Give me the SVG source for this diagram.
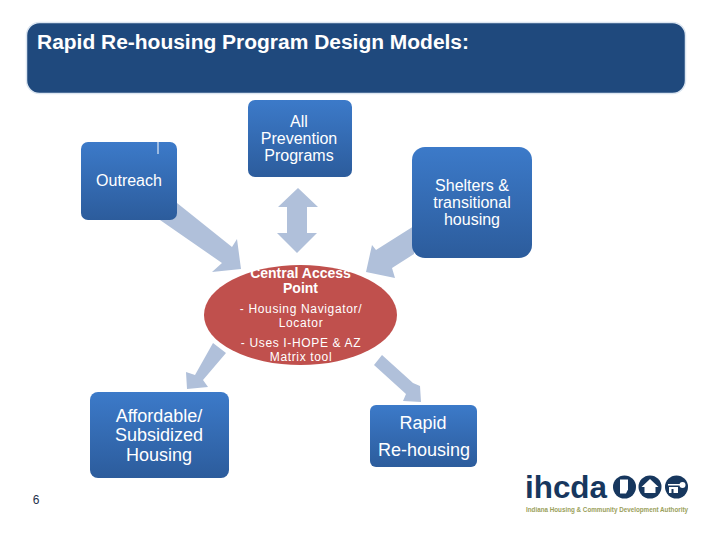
<svg xmlns="http://www.w3.org/2000/svg" width="720" height="540" viewBox="0 0 720 540">
<style>
text{font-family:"Liberation Sans",Arial,sans-serif;fill:#fff;text-anchor:middle}
.box{fill:url(#g)}
.arr{fill:#b0c0da}
.n{fill:#17375e}
.m{font-size:16px}
.l{font-size:18px}
.b{font-size:14px;font-weight:700}
.s{font-size:12px}
</style>
<defs>
<linearGradient id="g" x1="0" y1="0" x2="0" y2="1"><stop offset="0" stop-color="#3c7ac9"/><stop offset="1" stop-color="#2c5c9c"/></linearGradient>
</defs>
<rect width="720" height="540" fill="#fff"/>
<g id="title"><rect x="26.500" y="22.500" width="659" height="71" rx="13" fill="#1f497d" stroke="#dce6f1" stroke-width="1.500"/>
<text x="37" y="49" font-size="19.500" font-weight="700" style="text-anchor:start" textLength="432" lengthAdjust="spacingAndGlyphs">Rapid Re-housing Program Design Models:</text></g>
<g id="connectors">
<polygon class="arr" points="177,203 232,247 237,239 241,269 212,272 222,263 160,220"/>
<polygon class="arr" points="298,188 318,207 307,207 307,233 317,233 297,253 277,233 287,233 287,207 278,207"/>
<polygon class="arr" points="414,226 376,250 372,245 366,272 395,278 392,268 414,254"/>
<polygon class="arr" points="213,343 226,353 203,380 208,387 187,389 186,372 195,375"/>
<polygon class="arr" points="382,355 413,383 420,386 421,402 403,401 406,394 374,365"/>
</g>
<g id="outreach"><rect class="box" x="81" y="142" width="96" height="78" rx="7"/><rect x="157.500" y="142" width="1" height="12" fill="#fff"/>
<text class="m" x="129" y="186">Outreach</text></g>
<g id="prevention"><rect class="box" x="248" y="100" width="104" height="77" rx="7"/>
<text class="m" x="299" y="127">All</text><text class="m" x="299" y="144">Prevention</text><text class="m" x="299" y="161">Programs</text></g>
<g id="shelters"><rect class="box" x="412" y="147" width="120" height="111" rx="13"/>
<text class="m" x="472" y="191">Shelters &amp;</text><text class="m" x="472" y="208">transitional</text><text class="m" x="472" y="225">housing</text></g>
<g id="central"><ellipse cx="300.500" cy="315" rx="96.500" ry="50" fill="#c0504d"/>
<text class="b" x="300.500" y="278">Central Access</text><text class="b" x="300.500" y="293">Point</text>
<text class="s" x="301" y="313" letter-spacing=".65">-  Housing Navigator/</text><text class="s" x="301" y="327" letter-spacing=".65">Locator</text>
<text class="s" x="301" y="347" letter-spacing=".65">-  Uses I-HOPE &amp; AZ</text><text class="s" x="301" y="361" letter-spacing=".65">Matrix tool</text></g>
<g id="affordable"><rect class="box" x="90" y="392" width="139" height="86" rx="8"/>
<text class="l" x="159" y="422">Affordable/</text><text class="l" x="159" y="441">Subsidized</text><text class="l" x="159" y="461">Housing</text></g>
<g id="rapid"><rect class="box" x="370" y="405" width="107" height="62" rx="6"/>
<text class="l" x="423" y="429">Rapid</text><text class="l" x="424" y="456">Re-housing</text></g>
<text x="36" y="504" font-size="12" style="fill:#1c2f4a">6</text>
<g id="logo">
<text x="525" y="498" font-size="31" font-weight="700" style="fill:#17375e;text-anchor:start" textLength="82" lengthAdjust="spacingAndGlyphs">ihcda</text>
<circle class="n" cx="624.500" cy="487" r="11.500"/><path d="M620,479.500h8v10l-2,4h-6z" fill="#fff"/>
<circle class="n" cx="650" cy="487" r="11.500"/><polygon points="650,479 658.500,487 655.500,487 655.500,493 644.500,493 644.500,487 641.500,487" fill="#fff"/>
<circle class="n" cx="676.500" cy="487" r="11.500"/><path d="M668,484h12v1.500h-12zM669,487h9v6h-9z" fill="#fff"/><rect x="671.500" y="489" width="2" height="4" fill="#17375e"/><circle cx="682.500" cy="485" r="3" fill="#fff"/>
<text x="526" y="512" font-size="6.300" font-weight="700" style="fill:#9aa05a;text-anchor:start" textLength="162" lengthAdjust="spacingAndGlyphs">Indiana Housing &amp; Community Development Authority</text>
</g>
</svg>
